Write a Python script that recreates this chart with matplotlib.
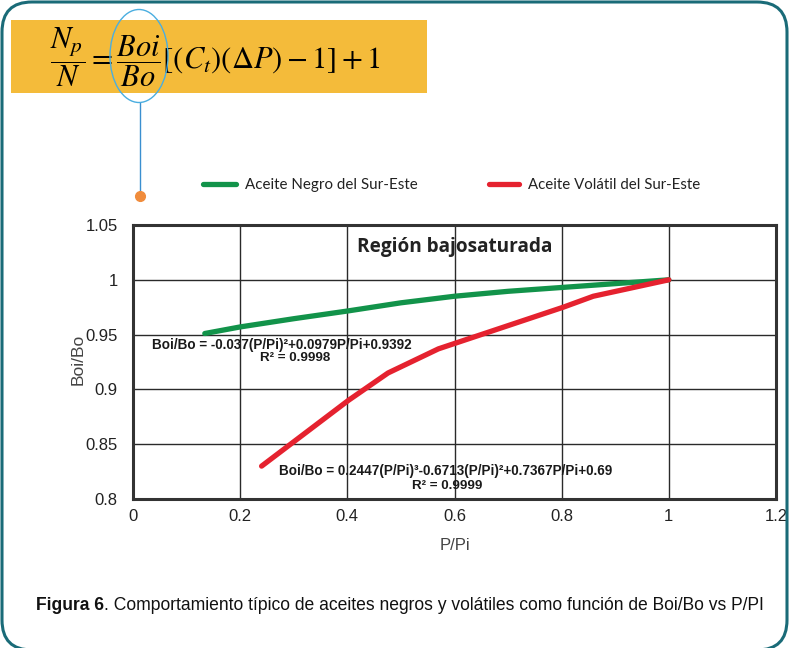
import matplotlib
matplotlib.use("Agg")
import matplotlib.pyplot as plt
from matplotlib.patches import FancyBboxPatch, Rectangle, Ellipse
from matplotlib.lines import Line2D

# ---- data -------------------------------------------------------------
black_x = [0.134, 0.2, 0.3, 0.4, 0.5, 0.6, 0.7, 0.8, 0.9, 1.0]
black_y = [0.951, 0.957, 0.9645, 0.9715, 0.979, 0.985, 0.9895, 0.993, 0.9965, 1.0]

volatile_x = [0.240, 0.402, 0.476, 0.570, 0.803, 0.859, 1.0]
volatile_y = [0.830, 0.890, 0.915, 0.937, 0.975, 0.985, 1.0]

x_ticks = [0, 0.2, 0.4, 0.6, 0.8, 1, 1.2]
x_tick_labels = ["0", "0.2", "0.4", "0.6", "0.8", "1", "1.2"]
y_ticks = [0.8, 0.85, 0.9, 0.95, 1.0, 1.05]
y_tick_labels = ["0.8", "0.85", "0.9", "0.95", "1", "1.05"]

series_names = ["Aceite Negro del Sur-Este", "Aceite Volátil del Sur-Este"]
fit_black = "Boi/Bo = -0.037(P/Pi)²+0.0979P/Pi+0.9392"
r2_black = "R² = 0.9998"
fit_volatile = "Boi/Bo = 0.2447(P/Pi)³-0.6713(P/Pi)²+0.7367P/Pi+0.69"
r2_volatile = "R² = 0.9999"

GREEN = "#12934a"
RED = "#e5222f"
TEAL = "#1a6b78"
ORANGE_BOX = "#f4bb3a"

W, H = 789, 648
fig = plt.figure(figsize=(W / 100, H / 100), dpi=100)
fig.patch.set_facecolor("white")
renderer = fig.canvas.get_renderer()


def fx(px):
    return px / W


def fy(py):
    return 1 - py / H


def fit_width(txt, width_px):
    """Scale a text's font size so it spans the given width in pixels."""
    w = txt.get_window_extent(renderer).width
    txt.set_fontsize(txt.get_fontsize() * width_px / w)


# ---- rounded frame ----------------------------------------------------
frame = FancyBboxPatch((fx(2), fy(650)), fx(787) - fx(2), fy(2) - fy(650),
                       boxstyle="round,pad=0,rounding_size=0.038",
                       transform=fig.transFigure, fill=False,
                       edgecolor=TEAL, linewidth=2.2, mutation_aspect=W / H)
fig.patches.append(frame)

# ---- formula banner ---------------------------------------------------
fig.patches.append(Rectangle((fx(11), fy(93)), fx(427) - fx(11), fy(20) - fy(93),
                             transform=fig.transFigure, facecolor=ORANGE_BOX,
                             edgecolor="none", zorder=1))
plt.rcParams["mathtext.fontset"] = "stix"
fig.text(fx(50), fy(57),
         r"$\dfrac{N_p}{N} = \dfrac{Boi}{Bo}\left[(C_t)(\Delta P) - 1\right] + 1$",
         fontsize=22, ha="left", va="center", color="black", zorder=3)
fig.patches.append(Ellipse((fx(139), fy(56)), fx(58), 93 / H,
                           transform=fig.transFigure, fill=False,
                           edgecolor="#4aaee0", linewidth=1.0, zorder=4))
fig.lines.append(Line2D([fx(140), fx(140)], [fy(103), fy(192)],
                        transform=fig.transFigure, color="#3a8fd0", lw=1.0))
fig.lines.append(Line2D([fx(140)], [fy(196)], transform=fig.transFigure,
                        marker="o", markersize=7, color="#f08c3c", lw=0))

# ---- main axes ---------------------------------------------------------
ax = fig.add_axes([fx(133), fy(499), fx(776) - fx(133), fy(225) - fy(499)])
line_kw = dict(lw=3.8, solid_capstyle="round", solid_joinstyle="round", zorder=3)
ax.plot(black_x, black_y, color=GREEN, **line_kw)
ax.plot(volatile_x, volatile_y, color=RED, **line_kw)

ax.set_xlim(0, 1.2)
ax.set_ylim(0.8, 1.05)
ax.set_xticks(x_ticks)
ax.set_xticklabels(x_tick_labels)
ax.set_yticks(y_ticks)
ax.set_yticklabels(y_tick_labels)
ax.grid(True, color="#2a2a2a", linewidth=1.0)
ax.set_axisbelow(True)
ax.tick_params(length=0, labelsize=12, labelcolor="#222222", pad=7)
ax.tick_params(axis="y", pad=11)
for lab in ax.get_xticklabels() + ax.get_yticklabels():
    lab.set_fontfamily("Liberation Sans")
for sp in ax.spines.values():
    sp.set_linewidth(2.2)
    sp.set_color("#333333")

ax.set_xlabel("P/Pi", fontsize=12, color="#444444", family="Liberation Sans")
ax.set_ylabel("Boi/Bo", fontsize=12.5, color="#444444", family="Liberation Sans")
ax.xaxis.set_label_coords((455 - 133) / 643, -(545 - 499) / 274)
ax.yaxis.set_label_coords(-(133 - 78) / 643, 1 - (359 - 225) / 274)
ax.xaxis.label.set_va("center")
ax.yaxis.label.set_va("center")


def axpos(px, py):
    return (px - 133) / 643, 1 - (py - 225) / 274


title = ax.text(*axpos(455, 247), "Región bajosaturada", transform=ax.transAxes,
                ha="center", va="center", fontsize=13, fontweight="bold",
                family="Open Sans", color="#222222")
fit_width(title, 194)

eq_kw = dict(fontsize=9, fontweight="bold", family="Liberation Sans",
             color="#1a1a1a", transform=ax.transAxes, va="center")
t1 = ax.text(*axpos(152, 345), fit_black, ha="left", **eq_kw)
fit_width(t1, 261)
t2 = ax.text(*axpos(295, 358), r2_black, ha="center", **eq_kw)
fit_width(t2, 70)
t3 = ax.text(*axpos(279, 471), fit_volatile, ha="left", **eq_kw)
fit_width(t3, 335)
t4 = ax.text(*axpos(447, 486), r2_volatile, ha="center", **eq_kw)
fit_width(t4, 70)

# ---- legend ------------------------------------------------------------
for (x0, x1, tx), name, col in zip([(203, 236, 245), (489, 519, 528)], series_names, [GREEN, RED]):
    fig.lines.append(Line2D([fx(x0), fx(x1)], [fy(184), fy(184)], transform=fig.transFigure,
                            color=col, lw=3.8, solid_capstyle="round"))
    lt = fig.text(fx(tx), fy(185), name, ha="left", va="center", fontsize=10.2,
                  family="Lato", color="#222222")
    fit_width(lt, 171)

# ---- caption -----------------------------------------------------------
cap_bold = fig.text(fx(36), fy(605), "Figura 6", ha="left", va="center", fontsize=10.5,
                    fontweight="bold", family="Liberation Sans", color="#111111")
cap_rest = fig.text(fx(100), fy(605),
                    ". Comportamiento típico de aceites negros y volátiles como función de Boi/Bo vs P/PI",
                    ha="left", va="center", fontsize=10.5, family="Liberation Sans", color="#111111")
wb = cap_bold.get_window_extent(renderer).width
wr = cap_rest.get_window_extent(renderer).width
scale = (773 - 36) / (wb + wr)
cap_bold.set_fontsize(10.5 * scale)
cap_rest.set_fontsize(10.5 * scale)
cap_rest.set_x(fx(36) + cap_bold.get_window_extent(renderer).width / W)

fig.savefig("out.png", dpi=100)
